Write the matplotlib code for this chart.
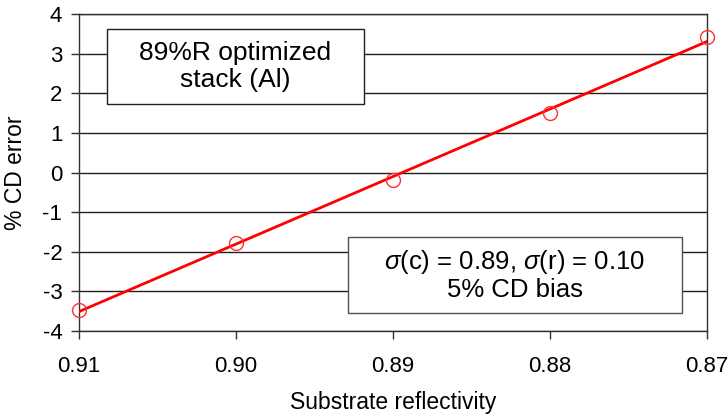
import numpy as np
import matplotlib
matplotlib.use("Agg")
import matplotlib.pyplot as plt
from matplotlib.patches import Rectangle

plt.rcParams['font.family'] = ['Liberation Sans', 'DejaVu Sans']
plt.rcParams['mathtext.fontset'] = 'custom'
plt.rcParams['mathtext.rm'] = 'Liberation Sans'
plt.rcParams['mathtext.it'] = 'Liberation Sans:italic'
plt.rcParams['axes.unicode_minus'] = False

# data
reflectivity = [0.91, 0.90, 0.89, 0.88, 0.87]
cd_error = [-3.46, -1.78, -0.19, 1.50, 3.42]
x_ticks = [0.91, 0.90, 0.89, 0.88, 0.87]
x_tick_labels = ['0.91', '0.90', '0.89', '0.88', '0.87']
y_ticks = [-4, -3, -2, -1, 0, 1, 2, 3, 4]

fig = plt.figure(figsize=(7.28, 4.16), dpi=100)
ax = fig.add_axes([79 / 728, 85 / 416, 628 / 728, 317 / 416])

# linear trendline through the points
x = np.array(reflectivity)
coef = np.polyfit(x, cd_error, 1)
xl = np.array([x.max(), x.min()])
ax.plot(xl, np.polyval(coef, xl), color='#ff0000', lw=2, zorder=3)
ax.plot(x, cd_error, 'o', mfc='none', mec='#ff3030', ms=10, mew=1, zorder=4,
        clip_on=False)

ax.set_xlim(0.91, 0.87)
ax.set_ylim(-4, 4)
ax.set_xticks(x_ticks)
ax.set_xticklabels(x_tick_labels)
ax.set_yticks(y_ticks)
ax.yaxis.grid(True, color='#202020', lw=1)
ax.set_axisbelow(True)
for s in ax.spines.values():
    s.set_color('#303030')
    s.set_linewidth(1)
ax.tick_params(axis='both', direction='out', length=6, width=1, color='#303030',
               labelsize=16)
ax.tick_params(axis='y', pad=6)
ax.tick_params(axis='x', pad=12)

ax.set_xlabel('Substrate reflectivity', fontsize=16.5, labelpad=10)
ax.set_ylabel('% CD error', fontsize=16.5)
ax.yaxis.set_label_coords(-0.083, 0.5)

# annotation boxes
ax.add_patch(Rectangle((0.0446, 0.716), 0.409, 0.2366, transform=ax.transAxes,
                       facecolor='white', edgecolor='#202020', lw=1, zorder=5))
ax.text(0.0446 + 0.409 / 2, 0.716 + 0.2366 / 2, '89%R optimized\nstack (Al)',
        transform=ax.transAxes, ha='center', va='center', fontsize=19,
        linespacing=1.15, zorder=6)

ax.add_patch(Rectangle((0.428, 0.0568), 0.532, 0.24, transform=ax.transAxes,
                       facecolor='white', edgecolor='#505050', lw=1, zorder=5))
ax.text(0.428 + 0.532 / 2, 0.0568 + 0.24 / 2,
        '$\\sigma$(c) = 0.89, $\\sigma$(r) = 0.10\n5% CD bias',
        transform=ax.transAxes, ha='center', va='center', fontsize=18.5,
        linespacing=1.15, zorder=6)

fig.savefig('out.png', dpi=100)
